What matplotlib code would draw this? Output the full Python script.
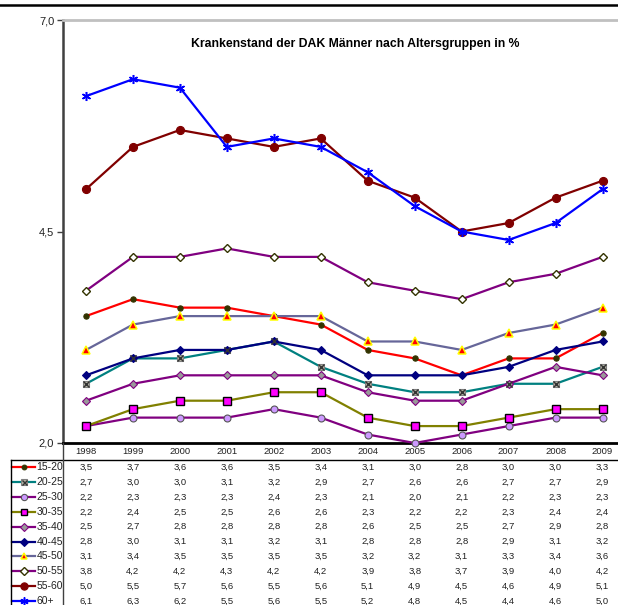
import matplotlib
matplotlib.use("Agg")
import matplotlib.pyplot as plt
from matplotlib.lines import Line2D
from matplotlib.transforms import blended_transform_factory

plt.rcParams['font.family'] = ['Liberation Sans', 'DejaVu Sans']

years = ["1998", "1999", "2000", "2001", "2002", "2003", "2004", "2005", "2006", "2007", "2008", "2009"]
groups = ["15-20", "20-25", "25-30", "30-35", "35-40", "40-45", "45-50", "50-55", "55-60", "60+"]

v_15_20 = [3.5, 3.7, 3.6, 3.6, 3.5, 3.4, 3.1, 3.0, 2.8, 3.0, 3.0, 3.3]
v_20_25 = [2.7, 3.0, 3.0, 3.1, 3.2, 2.9, 2.7, 2.6, 2.6, 2.7, 2.7, 2.9]
v_25_30 = [2.2, 2.3, 2.3, 2.3, 2.4, 2.3, 2.1, 2.0, 2.1, 2.2, 2.3, 2.3]
v_30_35 = [2.2, 2.4, 2.5, 2.5, 2.6, 2.6, 2.3, 2.2, 2.2, 2.3, 2.4, 2.4]
v_35_40 = [2.5, 2.7, 2.8, 2.8, 2.8, 2.8, 2.6, 2.5, 2.5, 2.7, 2.9, 2.8]
v_40_45 = [2.8, 3.0, 3.1, 3.1, 3.2, 3.1, 2.8, 2.8, 2.8, 2.9, 3.1, 3.2]
v_45_50 = [3.1, 3.4, 3.5, 3.5, 3.5, 3.5, 3.2, 3.2, 3.1, 3.3, 3.4, 3.6]
v_50_55 = [3.8, 4.2, 4.2, 4.3, 4.2, 4.2, 3.9, 3.8, 3.7, 3.9, 4.0, 4.2]
v_55_60 = [5.0, 5.5, 5.7, 5.6, 5.5, 5.6, 5.1, 4.9, 4.5, 4.6, 4.9, 5.1]
v_60p = [6.1, 6.3, 6.2, 5.5, 5.6, 5.5, 5.2, 4.8, 4.5, 4.4, 4.6, 5.0]

series = [v_15_20, v_20_25, v_25_30, v_30_35, v_35_40, v_40_45, v_45_50, v_50_55, v_55_60, v_60p]

title = "Krankenstand der DAK Männer nach Altersgruppen in %"
yticks = [2.0, 4.5, 7.0]

styles = [
    dict(color="#FF0000", marker="o", ms=3.8, mfc="#333300", mec="#333300", mew=0.8),
    dict(color="#008080", marker="s", ms=5.0, mfc="#B0B0A0", mec="#808080", mew=0.8),
    dict(color="#800080", marker="o", ms=5.0, mfc="#CC99FF", mec="#555555", mew=0.8),
    dict(color="#808000", marker="s", ms=5.2, mfc="#FF00FF", mec="#000000", mew=1.0),
    dict(color="#800080", marker="D", ms=4.0, mfc="#999999", mec="#800080", mew=0.8),
    dict(color="#000080", marker="D", ms=4.0, mfc="#000080", mec="#000080", mew=0.8),
    dict(color="#666699", marker="^", ms=5.5, mfc="#FF0000", mec="#FFFF00", mew=1.1),
    dict(color="#800080", marker="D", ms=4.5, mfc="#FFFFFF", mec="#333300", mew=1.0),
    dict(color="#800000", marker="o", ms=5.8, mfc="#800000", mec="#800000", mew=0.8),
    dict(color="#0000FF", marker=(6, 2, 0), ms=6.5, mfc="#0000FF", mec="#0000FF", mew=1.1),
]

W, H = 618, 605
fig = plt.figure(figsize=(W / 100, H / 100), dpi=100)

def fx(px):
    return px / W

def fy(py):
    return 1 - py / H

left_px, right_px, top_px, bot_px = 62.5, 626.0, 20.0, 443.0
ax = fig.add_axes([fx(left_px), fy(bot_px), fx(right_px - left_px), (bot_px - top_px) / H])

x = list(range(len(years)))
for vals, st in zip(series, styles):
    ax.plot(x, vals, lw=1.6, clip_on=False, zorder=3, **st)
    if st["marker"] == "s" and st["mfc"] == "#B0B0A0":
        ax.plot(x, vals, ls="none", marker="x", ms=4, mec="#333333", mew=1.0, clip_on=False, zorder=4)

ax.set_xlim(-0.5, len(years) - 0.5)
ax.set_ylim(2.0, 7.0)
ax.set_yticks(yticks)
ax.set_yticklabels([f"{t:.1f}".replace(".", ",") for t in yticks], fontsize=8, color="#222222")
ax.tick_params(axis="y", direction="out", length=4, width=1, color="#404040", pad=2)
ax.set_xticks([])
ax.spines["right"].set_visible(False)
ax.spines["left"].set_color("#404040")
ax.spines["left"].set_linewidth(1.8)
ax.spines["bottom"].set_color("#000000")
ax.spines["bottom"].set_linewidth(2.0)
ax.spines["top"].set_color("#C0C0C0")
ax.spines["top"].set_linewidth(2.0)

fig.text(fx(355.5), fy(44), title, ha="center", va="center", fontsize=8.8, fontweight="bold", color="#000000")

# outer top border
fig.add_artist(Line2D([0, 1], [fy(5), fy(5)], transform=fig.transFigure, color="#000000", lw=1.8))

# table
trans = blended_transform_factory(ax.transData, fig.transFigure)
hdr_y = 452
for i, yr in enumerate(years):
    ax.text(i, fy(hdr_y), yr, transform=trans, ha="center", va="center", fontsize=6.8, color="#222222")

row0, dy = 467.3, 14.85
for r, (g, vals, st) in enumerate(zip(groups, series, styles)):
    yy = fy(row0 + r * dy)
    for i, v in enumerate(vals):
        ax.text(i, yy, f"{v:.1f}".replace(".", ","), transform=trans, ha="center", va="center",
                fontsize=6.8, color="#222222")
    # legend key
    fig.add_artist(Line2D([fx(12), fx(35)], [yy, yy], transform=fig.transFigure, lw=1.6, color=st["color"]))
    kst = {k: v for k, v in st.items() if k != "color"}
    kst["ms"] = st["ms"] * 0.9
    fig.add_artist(Line2D([fx(23.5)], [yy], transform=fig.transFigure, ls="none", **kst))
    if st["marker"] == "s" and st["mfc"] == "#B0B0A0":
        fig.add_artist(Line2D([fx(23.5)], [yy], transform=fig.transFigure, ls="none", marker="x", ms=3.6,
                              mec="#333333", mew=1.0))
    fig.text(fx(36.5), yy, g, ha="left", va="center", fontsize=7.5, color="#222222")

# table grid lines
fig.add_artist(Line2D([fx(11), 1], [fy(459.5), fy(459.5)], transform=fig.transFigure, color="#000000", lw=1.0))
fig.add_artist(Line2D([fx(11), fx(11)], [fy(459.5), 0], transform=fig.transFigure, color="#000000", lw=1.0))
fig.add_artist(Line2D([fx(left_px), fx(left_px)], [fy(bot_px), 0], transform=fig.transFigure, color="#404040", lw=1.0))

fig.savefig("out.png", dpi=100)
